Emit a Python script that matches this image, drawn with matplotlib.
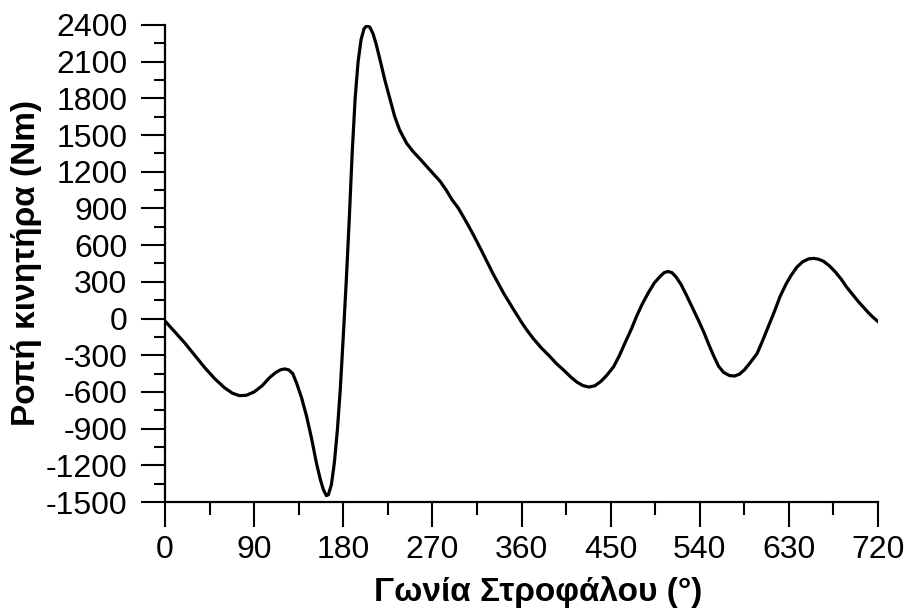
import matplotlib.pyplot as plt
from matplotlib.ticker import MultipleLocator

plt.rcParams['font.family'] = ['Liberation Sans', 'DejaVu Sans']
plt.rcParams['axes.unicode_minus'] = False  # παύλα αντί για unicode minus

# γωνία στροφάλου (μοίρες) και ροπή κινητήρα (Nm), διαβασμένα από το γράφημα
angle = [0, 10, 20, 30, 40, 50, 60, 68, 75, 82, 90, 98, 106, 112, 117, 121,
         125, 129, 133, 138, 143, 148, 153, 157, 160, 163, 165, 168, 171, 174,
         177, 180, 183, 186, 189, 192, 195, 198, 201, 204, 207, 210, 213, 217,
         222, 227, 232, 237, 244, 250, 258, 266, 272, 278, 284, 290, 296, 300,
         306, 312, 321, 331, 342, 353, 360, 365, 372, 380, 388, 395, 403, 410,
         416, 422, 428, 434, 440, 446, 453, 459, 465, 471, 476, 482, 488, 494,
         500, 504, 508, 512, 516, 521, 526, 531, 534, 539, 544, 549, 554, 559,
         564, 570, 575, 580, 585, 591, 598, 604, 610, 616, 621, 627, 632, 638,
         644, 650, 655, 660, 665, 671, 677, 683, 688, 694, 700, 705, 710, 715,
         720]
torque = [-20, -110, -200, -300, -400, -490, -565, -610, -630, -628, -600, -550,
          -480, -440, -418, -412, -420, -450, -530, -650, -800, -980, -1184,
          -1320, -1400, -1448, -1440, -1360, -1180, -920, -580, -150, 300, 800,
          1350, 1800, 2100, 2280, 2370, 2395, 2380, 2330, 2250, 2120, 1950,
          1800, 1650, 1540, 1433, 1370, 1300, 1228, 1175, 1120, 1050, 970, 905,
          850, 765, 675, 533, 370, 206, 60, -30, -90, -165, -240, -305, -366,
          -425, -480, -520, -548, -560, -550, -515, -465, -394, -300, -190, -85,
          15, 120, 210, 290, 345, 375, 385, 375, 340, 280, 200, 115, 65, -20,
          -110, -210, -305, -390, -440, -466, -470, -455, -420, -360, -284, -170,
          -50, 70, 179, 280, 350, 420, 465, 488, 492, 485, 468, 430, 380, 320,
          260, 200, 140, 95, 50, 10, -25]

fig = plt.figure(figsize=(9.08, 6.12), dpi=100)
ax = fig.add_axes([0.1817, 0.1797, 0.7853, 0.7795])
ax.plot(angle, torque, color='black', linewidth=2.3)

ax.set_xlim(0, 720)
ax.set_ylim(-1500, 2400)
ax.xaxis.set_major_locator(MultipleLocator(90))
ax.xaxis.set_minor_locator(MultipleLocator(45))
ax.yaxis.set_major_locator(MultipleLocator(300))
ax.yaxis.set_minor_locator(MultipleLocator(150))

for s in ['top', 'right']:
    ax.spines[s].set_visible(False)
for s in ['left', 'bottom']:
    ax.spines[s].set_linewidth(1.6)

ax.tick_params(axis='x', which='major', direction='out', length=18, width=1.5,
               pad=6, labelsize=23)
ax.tick_params(axis='x', which='minor', direction='out', length=9, width=1.5)
ax.tick_params(axis='y', which='major', direction='out', length=17, width=1.5,
               pad=10, labelsize=23)
ax.tick_params(axis='y', which='minor', direction='out', length=8, width=1.5)

ax.set_xlabel('Γωνία Στροφάλου (°)', fontsize=24, fontweight='bold')
ax.set_ylabel('Ροπή κινητήρα (Nm)', fontsize=24, fontweight='bold')
ax.xaxis.set_label_coords(0.523, -0.155)
ax.yaxis.set_label_coords(-0.172, 0.5)

fig.savefig('out.png', dpi=100)
